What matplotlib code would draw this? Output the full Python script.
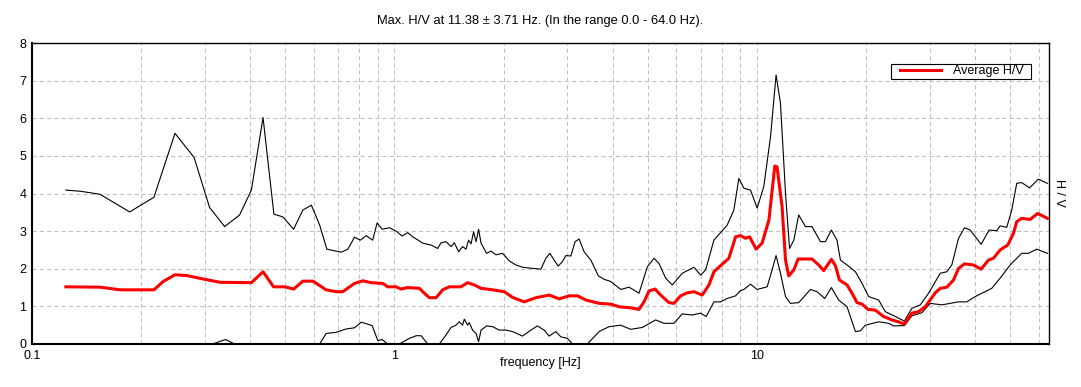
import matplotlib
matplotlib.use("Agg")
import matplotlib.pyplot as plt
from matplotlib.patches import Rectangle
from matplotlib.ticker import LogLocator, NullFormatter

plt.rcParams['font.family'] = ['Liberation Sans', 'DejaVu Sans']

# HVSR curve: frequency [Hz] and H/V
upper_freq = [0.124, 0.136, 0.154, 0.186, 0.217, 0.248, 0.280, 0.309, 0.340, 0.374,
              0.403, 0.434, 0.465, 0.492, 0.527, 0.559, 0.590, 0.622, 0.651, 0.713,
              0.744, 0.776, 0.805, 0.836, 0.871, 0.896, 0.925, 0.969, 1.011, 1.050,
              1.088, 1.123, 1.167, 1.197, 1.262, 1.316, 1.345, 1.388, 1.433, 1.463,
              1.504, 1.542, 1.576, 1.602, 1.627, 1.654, 1.680, 1.707, 1.734, 1.796,
              1.847, 1.906, 1.988, 2.074, 2.164, 2.257, 2.404, 2.536, 2.618, 2.685,
              2.759, 2.830, 2.908, 2.972, 3.068, 3.152, 3.233, 3.338, 3.483, 3.654,
              3.789, 3.954, 4.212, 4.440, 4.731, 4.987, 5.204, 5.370, 5.604, 5.844,
              6.226, 6.706, 6.998, 7.224, 7.613, 8.283, 8.642, 8.921, 9.209, 9.608,
              10.02, 10.45, 10.91, 11.30, 11.62, 12.00, 12.31, 12.65, 13.05, 13.62,
              14.20, 14.98, 15.46, 16.06, 16.64, 17.01, 17.74, 18.71, 19.51, 20.35,
              21.68, 22.62, 24.11, 25.53, 26.79, 28.25, 29.78, 32.07, 33.44, 34.51,
              36.02, 37.41, 38.79, 41.59, 43.75, 45.92, 46.92, 48.93, 50.51, 52.14,
              53.83, 56.52, 59.84, 63.35]
upper_hv = [4.09, 4.06, 3.98, 3.51, 3.90, 5.60, 4.96, 3.63, 3.12, 3.43,
            4.09, 6.02, 3.45, 3.38, 3.05, 3.56, 3.69, 3.16, 2.52, 2.44,
            2.52, 2.84, 2.76, 2.88, 2.76, 3.22, 3.05, 3.09, 3.00, 2.87,
            2.96, 2.85, 2.75, 2.68, 2.63, 2.54, 2.69, 2.72, 2.59, 2.69,
            2.45, 2.59, 2.52, 2.76, 2.66, 2.98, 2.72, 3.05, 2.68, 2.41,
            2.47, 2.37, 2.41, 2.21, 2.10, 2.04, 2.01, 1.99, 2.28, 2.41,
            2.23, 2.07, 2.19, 2.35, 2.34, 2.72, 2.79, 2.45, 2.23, 1.81,
            1.72, 1.66, 1.45, 1.51, 1.35, 2.05, 2.28, 2.14, 1.75, 1.57,
            1.88, 2.04, 1.83, 1.97, 2.76, 3.16, 3.56, 4.40, 4.14, 4.09,
            3.61, 4.18, 5.51, 7.15, 6.40, 4.00, 2.54, 2.76, 3.43, 3.12,
            3.12, 2.72, 2.72, 3.03, 2.76, 2.23, 2.10, 1.92, 1.61, 1.26,
            1.17, 0.86, 0.73, 0.61, 0.95, 1.04, 1.35, 1.88, 1.92, 2.10,
            2.81, 3.09, 3.03, 2.65, 3.03, 3.01, 3.14, 3.10, 3.56, 4.27,
            4.29, 4.15, 4.38, 4.27]

avg_freq = [0.124, 0.154, 0.175, 0.217, 0.230, 0.248, 0.267, 0.296, 0.330, 0.403,
            0.434, 0.464, 0.498, 0.527, 0.559, 0.596, 0.648, 0.691, 0.720, 0.776,
            0.818, 0.863, 0.929, 0.958, 1.011, 1.043, 1.088, 1.172, 1.209, 1.249,
            1.303, 1.359, 1.418, 1.526, 1.592, 1.661, 1.734, 1.866, 2.009, 2.118,
            2.281, 2.457, 2.673, 2.848, 3.035, 3.199, 3.374, 3.670, 3.954, 4.167,
            4.488, 4.731, 4.883, 5.041, 5.236, 5.429, 5.723, 5.906, 6.163, 6.427,
            6.706, 7.069, 7.376, 7.613, 8.024, 8.374, 8.736, 9.019, 9.309, 9.548,
            9.956, 10.34, 10.80, 11.21, 11.37, 11.74, 12.00, 12.25, 12.65, 13.00,
            14.20, 14.82, 15.29, 16.06, 16.48, 16.90, 17.74, 18.31, 18.90, 19.51,
            20.26, 21.23, 22.38, 23.59, 24.61, 25.53, 26.79, 27.94, 29.15, 31.07,
            32.07, 33.44, 34.89, 36.02, 37.41, 39.61, 41.59, 43.56, 44.97, 46.92,
            49.24, 51.05, 52.14, 53.83, 56.75, 59.56, 63.35]
avg_hv = [1.52, 1.51, 1.44, 1.44, 1.66, 1.84, 1.82, 1.73, 1.64, 1.63,
          1.92, 1.52, 1.52, 1.46, 1.67, 1.67, 1.44, 1.39, 1.39, 1.61,
          1.68, 1.63, 1.61, 1.52, 1.52, 1.46, 1.50, 1.48, 1.35, 1.23,
          1.23, 1.44, 1.52, 1.52, 1.63, 1.57, 1.48, 1.44, 1.39, 1.24,
          1.12, 1.23, 1.30, 1.20, 1.28, 1.28, 1.17, 1.08, 1.06, 0.99,
          0.96, 0.92, 1.12, 1.41, 1.46, 1.30, 1.10, 1.08, 1.28, 1.36,
          1.39, 1.30, 1.57, 1.92, 2.12, 2.28, 2.85, 2.88, 2.81, 2.85,
          2.52, 2.68, 3.30, 4.73, 4.71, 3.65, 2.23, 1.81, 1.97, 2.26,
          2.26, 2.10, 1.95, 2.25, 2.08, 1.70, 1.57, 1.35, 1.10, 1.06,
          0.92, 0.90, 0.73, 0.64, 0.59, 0.53, 0.82, 0.86, 0.99, 1.36,
          1.48, 1.51, 1.70, 2.01, 2.13, 2.10, 1.99, 2.23, 2.28, 2.50,
          2.63, 2.94, 3.25, 3.34, 3.31, 3.47, 3.34]

lower_freq = [0.124, 0.315, 0.342, 0.362, 0.622, 0.648, 0.691, 0.736, 0.776, 0.810,
              0.868, 0.900, 0.925, 0.958, 1.032, 1.100, 1.148, 1.185, 1.235, 1.330,
              1.388, 1.433, 1.479, 1.510, 1.542, 1.559, 1.592, 1.609, 1.643, 1.680,
              1.707, 1.734, 1.796, 1.866, 1.947, 2.031, 2.118, 2.257, 2.381, 2.481,
              2.589, 2.673, 2.789, 2.879, 3.002, 3.099, 3.408, 3.670, 3.911, 4.212,
              4.488, 4.831, 5.259, 5.543, 5.906, 6.226, 6.635, 6.998, 7.250, 7.613,
              7.943, 8.283, 8.736, 9.019, 9.209, 9.608, 10.02, 10.68, 11.02, 11.30,
              11.62, 12.00, 12.38, 13.05, 14.06, 14.66, 15.39, 16.06, 16.82, 17.74,
              18.71, 19.31, 19.93, 21.68, 23.10, 23.85, 25.53, 26.79, 28.53, 30.10,
              32.40, 36.02, 37.96, 40.04, 44.49, 46.92, 50.00, 53.83, 56.14, 59.19,
              63.35]
lower_hv = [0.00, 0.00, 0.12, 0.00, 0.00, 0.28, 0.31, 0.40, 0.43, 0.58,
            0.49, 0.09, 0.12, 0.00, 0.00, 0.15, 0.22, 0.22, 0.00, 0.00,
            0.24, 0.44, 0.50, 0.59, 0.50, 0.66, 0.50, 0.57, 0.37, 0.28,
            0.06, 0.37, 0.48, 0.46, 0.37, 0.37, 0.33, 0.21, 0.37, 0.48,
            0.37, 0.21, 0.33, 0.19, 0.15, 0.00, 0.00, 0.33, 0.46, 0.50,
            0.39, 0.44, 0.64, 0.55, 0.55, 0.80, 0.77, 0.82, 0.73, 1.12,
            1.12, 1.21, 1.28, 1.42, 1.45, 1.59, 1.45, 1.52, 1.97, 2.35,
            1.88, 1.26, 1.08, 1.10, 1.45, 1.39, 1.21, 1.50, 1.17, 0.99,
            0.33, 0.35, 0.50, 0.59, 0.55, 0.48, 0.49, 0.75, 0.83, 1.08,
            1.04, 1.12, 1.12, 1.26, 1.48, 1.75, 2.10, 2.41, 2.41, 2.52,
            2.41]

title = 'Max. H/V at 11.38 \u00b1 3.71 Hz. (In the range 0.0 - 64.0 Hz).'

W, H = 1081, 387
fig = plt.figure(figsize=(W / 100, H / 100), dpi=100)
ax = fig.add_axes([32 / W, (H - 344) / H, (1049 - 32) / W, (344 - 43) / H])

grid_style = dict(color='#c0c0c0', linestyle=(0, (4, 3)), linewidth=0.75)
ax.set_xscale('log')
ax.set_xlim(0.1, 64)
ax.set_ylim(0, 8)
ax.set_xticks([0.1, 1, 10])
ax.set_xticklabels(['0.1', '1', '10'])
ax.xaxis.set_minor_locator(LogLocator(base=10, subs=range(2, 10)))
ax.xaxis.set_minor_formatter(NullFormatter())
ax.set_yticks(range(0, 9))
ax.grid(True, which='both', axis='x', **grid_style)
ax.grid(True, which='major', axis='y', **grid_style)
ax.tick_params(which='both', length=0, labelsize=9, colors='black')
ax.tick_params(axis='x', pad=4.5)
ax.tick_params(axis='y', pad=4)
for side in ['left', 'bottom']:
    ax.spines[side].set_linewidth(1.5)
for side in ['top', 'right']:
    ax.spines[side].set_linewidth(1.0)

ax.plot(upper_freq, upper_hv, color='black', linewidth=0.8)
ax.plot(lower_freq, lower_hv, color='black', linewidth=0.8)
ax.plot(avg_freq, avg_hv, color='#ff0000', linewidth=2.2, label='Average H/V')

# legend: plain box, wider than tall, as in the original program
ax.add_patch(Rectangle((891 / W, 1 - 78.5 / H), 140 / W, 14.5 / H,
                       transform=fig.transFigure, facecolor='white',
                       edgecolor='black', linewidth=0.8, zorder=4, clip_on=False))
ax.legend(loc='center left', bbox_to_anchor=(900 / W, 1 - 71 / H),
          bbox_transform=fig.transFigure, borderaxespad=0, borderpad=0,
          frameon=False, fontsize=9, handlelength=3.3, handletextpad=0.92)

fig.text(0.5, 1 - 21 / H, title, ha='center', va='center', fontsize=9.3)
fig.text(540.5 / W, 1 - 363 / H, 'frequency [Hz]', ha='center', va='center', fontsize=9)
fig.text(1059 / W, 1 - 193 / H, 'H / V', ha='center', va='center', fontsize=9, rotation=270)

fig.savefig('out.png', dpi=100)
